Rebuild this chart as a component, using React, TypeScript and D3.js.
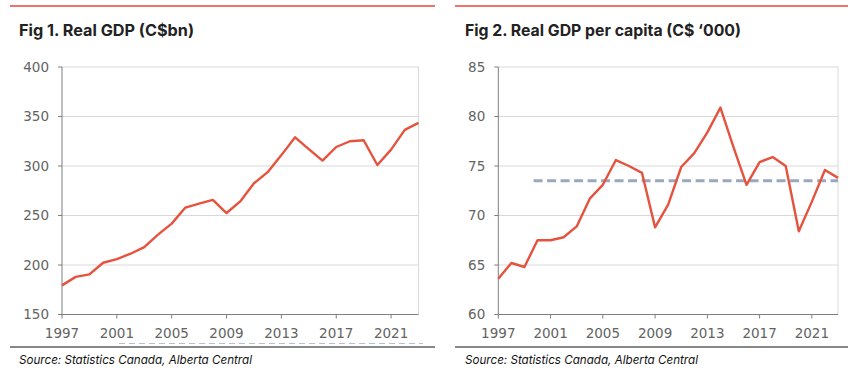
import React from "react";
import * as d3 from "d3";

const years = d3.range(1997, 2024);
const gdp = [179.4, 188, 190.5, 202.3, 206, 211.4, 218.1, 230.7, 241.8, 258, 262, 265.8, 252.5, 264.2, 282.6, 293.8, 311, 329, 317, 305.5, 319.2, 325, 326, 301, 316.5, 336.5, 343.5];
const gdpPc = [63.6, 65.2, 64.8, 67.5, 67.5, 67.8, 68.9, 71.7, 73.1, 75.6, 75.0, 74.3, 68.8, 71.1, 74.9, 76.3, 78.4, 80.9, 76.9, 73.1, 75.4, 75.9, 75.0, 68.4, 71.4, 74.6, 73.8];
const avgValue = 73.5;
const avgFrom = 1999.7;
const xTicks = [1997, 2001, 2005, 2009, 2013, 2017, 2021];
const gdpTicks = [150, 200, 250, 300, 350, 400];
const pcTicks = [60, 65, 70, 75, 80, 85];
const titles = ["Fig 1. Real GDP (C$bn)", "Fig 2. Real GDP per capita (C$ \u2018000)"];
const source = "Source: Statistics Canada, Alberta Central";

const RED = "#e5533f";
const AXIS = "#7f7f7f";
const GRID = "#d9d9d9";
const LABEL = "#636363";

type PanelProps = {
  x0: number; x1: number; values: number[]; ticks: number[];
  title: string; titleX: number; titleW: number; ruleX0: number; ruleX1: number;
  avg?: boolean;
};

function Panel({ x0, x1, values, ticks, title, titleX, titleW, ruleX0, ruleX1, avg }: PanelProps) {
  const yTop = 67, yBot = 314.5;
  const x = d3.scaleLinear().domain([1997, 2023]).range([x0, x1]);
  const y = d3.scaleLinear().domain([ticks[0], ticks[ticks.length - 1]]).range([yBot, yTop]);
  const line = d3.line<number>().x((_, i) => x(years[i])).y((d) => y(d));
  return (
    <g>
      <line x1={ruleX0} x2={ruleX1} y1={6} y2={6} stroke="#e8463a" strokeWidth={1.3} />
      <text x={titleX} y={36} fontFamily="Inter, 'Open Sans', sans-serif" fontWeight={700} fontSize={16}
        fill="#222" textLength={titleW} lengthAdjust="spacingAndGlyphs">{title}</text>
      {ticks.map((t) => (
        <g key={t}>
          {t !== ticks[0] && <line x1={x0} x2={x1} y1={y(t)} y2={y(t)} stroke={GRID} strokeWidth={1} />}
          <line x1={x0 - 4} x2={x0} y1={y(t)} y2={y(t)} stroke={AXIS} strokeWidth={1} />
          <text x={x0 - 13} y={y(t)} dy="0.36em" textAnchor="end" fontFamily="'DejaVu Sans', Verdana, sans-serif"
            fontSize={13.5} fill={LABEL}>{t}</text>
        </g>
      ))}
      <line x1={x1} x2={x1} y1={yTop} y2={yBot} stroke={GRID} strokeWidth={1} />
      <line x1={x0} x2={x0} y1={yTop} y2={yBot} stroke={AXIS} strokeWidth={1} />
      <line x1={x0} x2={x1} y1={yBot} y2={yBot} stroke={AXIS} strokeWidth={1} />
      {xTicks.map((t) => (
        <g key={t}>
          <line x1={x(t)} x2={x(t)} y1={yBot} y2={yBot + 4} stroke={AXIS} strokeWidth={1} />
          <text x={x(t)} y={337.5} textAnchor="middle" fontFamily="'DejaVu Sans', Verdana, sans-serif"
            fontSize={13.5} fill={LABEL}>{t}</text>
        </g>
      ))}
      {avg && (
        <line x1={x(avgFrom)} x2={x1} y1={y(avgValue)} y2={y(avgValue)} stroke="#9aa8bf" strokeWidth={3}
          strokeDasharray="9 4.5" />
      )}
      <path d={line(values) || ""} fill="none" stroke={RED} strokeWidth={2.4} strokeLinejoin="round" />
      <line x1={ruleX0} x2={ruleX1} y1={347} y2={347} stroke="#111" strokeWidth={1.2} />
      <text x={titleX} y={364} fontFamily="Inter, 'Open Sans', sans-serif" fontStyle="italic" fontSize={12}
        fill="#111" textLength={233} lengthAdjust="spacingAndGlyphs">{source}</text>
    </g>
  );
}

export default function App() {
  return (
    <svg width={866} height={373} style={{ position: "absolute", left: 0, top: 0, background: "#fff" }}>
      <rect width={866} height={373} fill="#fff" />
      <Panel x0={62} x1={418.5} values={gdp} ticks={gdpTicks} title={titles[0]} titleX={19} titleW={175}
        ruleX0={10} ruleX1={435} />
      <line x1={119} x2={423} y1={343.5} y2={343.5} stroke="#b4c0d6" strokeWidth={1} strokeDasharray="6 4" />
      <Panel x0={498.3} x1={838} values={gdpPc} ticks={pcTicks} title={titles[1]} titleX={465} titleW={276}
        ruleX0={455} ruleX1={848} avg />
    </svg>
  );
}
